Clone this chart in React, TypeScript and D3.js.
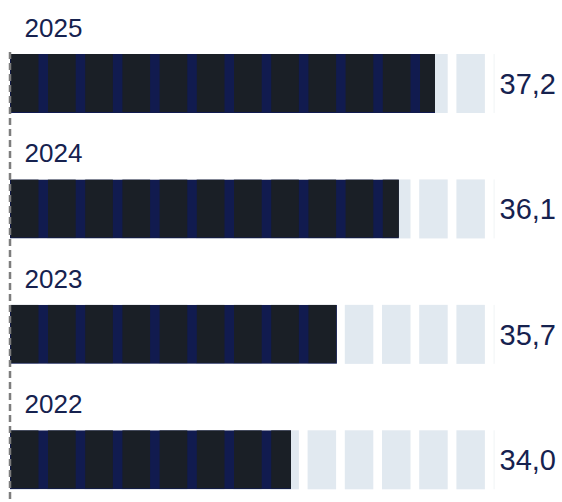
import React from "react";
import * as d3 from "d3";

// ---- data ----
const years = ["2025", "2024", "2023", "2022"];
const values = [37.2, 36.1, 35.7, 34.0];
// filled share of the segmented track, in percent
const fillShare = [87.9, 80.4, 67.6, 58.1];
const segmentCount = 13;

const W = 562;
const H = 502;

const TRACK = "#e1e9f0";
const DARK = "#1a1f26";
const NAVY = "#111b4f";
const TEXT = "#16224f";

export default function App() {
  const x = d3.scaleLinear().domain([0, 100]).range([10, 493.6]);
  const y = d3
    .scaleBand<string>()
    .domain(years)
    .range([54, 489.3])
    .paddingInner(0.5296)
    .paddingOuter(0);
  const bh = y.bandwidth();
  const segs = d3.range(segmentCount);
  const period = x(100 / segmentCount) - x(0);
  const gap = 8.7;
  const segW = period - gap;
  const fmt = (v: number) => d3.format(".1f")(v).replace(".", ",");

  return (
    <svg
      width={W}
      height={H}
      style={{ position: "absolute", left: 0, top: 0, display: "block" }}
      fontFamily="'Liberation Sans', Arial, sans-serif"
    >
      <defs>
        {years.map((yr, i) => (
          <clipPath id={`clip-${yr}`} key={yr}>
            <rect x={x(0)} y={y(yr)!} width={x(fillShare[i]) - x(0)} height={bh} />
          </clipPath>
        ))}
      </defs>
      {years.map((yr, i) => {
        const top = y(yr)!;
        return (
          <g key={yr}>
            <text x={24.5} y={top - 17} fontSize={26} fill={TEXT}>
              {yr}
            </text>
            {segs.map((k) => (
              <rect
                key={k}
                x={x((k * 100) / segmentCount)}
                y={top}
                width={segW}
                height={bh}
                fill={TRACK}
              />
            ))}
            <rect x={x(100)} y={top} width={1} height={bh} fill="#f1f4f6" />
            <g clipPath={`url(#clip-${yr})`}>
              <rect x={x(0)} y={top} width={x(100) - x(0)} height={bh} fill={NAVY} />
              {segs.map((k) => (
                <rect
                  key={k}
                  x={x((k * 100) / segmentCount) + 0.8}
                  y={top}
                  width={segW - 0.8}
                  height={bh - 1}
                  fill={DARK}
                />
              ))}
            </g>
            <text
              x={556}
              y={top + bh / 2 + 10.4}
              fontSize={29}
              fill={TEXT}
              textAnchor="end"
            >
              {fmt(values[i])}
            </text>
          </g>
        );
      })}
      <line
        x1={10}
        x2={10}
        y1={52}
        y2={H}
        stroke="#7d7d7d"
        strokeWidth={2.5}
        strokeDasharray="7 4"
      />
    </svg>
  );
}
